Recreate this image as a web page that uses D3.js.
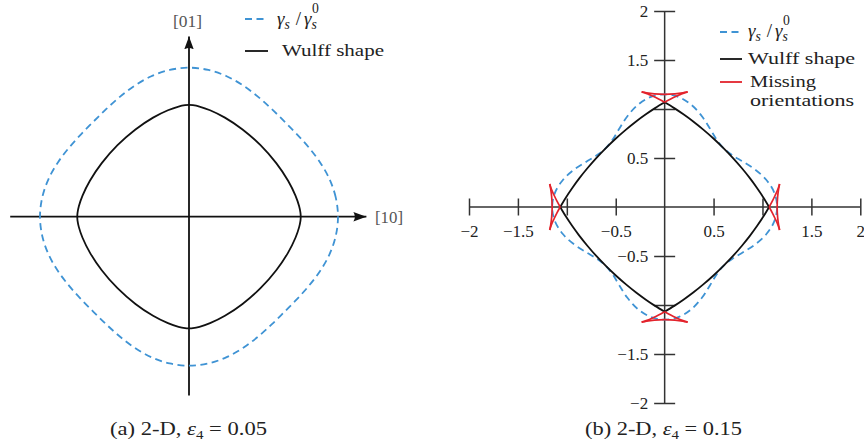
<!DOCTYPE html>
<html>
<head>
<meta charset="utf-8">
<script src="https://cdn.jsdelivr.net/npm/d3@7"></script>
<style>
  html, body { margin: 0; padding: 0; background: #fff; }
  svg { display: block; }
  text { font-family: "Liberation Serif", "Times New Roman", serif; fill: #222; }
</style>
</head>
<body>
<svg id="chart" width="864" height="446"></svg>
<script>
// ---------------- data ----------------
// polar angles (degrees) for one quarter turn; the energy plot repeats every 90°
const angleDeg = [0, 7.5, 15, 22.5, 30, 37.5, 45, 52.5, 60, 67.5, 75, 82.5];
// normalised surface energy gamma_s / gamma_s^0 at those angles
const gammaA = [1.05, 1.043, 1.025, 1.0, 0.975, 0.957, 0.95, 0.957, 0.975, 1.0, 1.025, 1.043];
const gammaB = [1.15, 1.13, 1.075, 1.0, 0.925, 0.87, 0.85, 0.87, 0.925, 1.0, 1.075, 1.13];

// Wulff shape outline, first quadrant, from the [10] tip to the [01] tip
const wulffA = [[0.7875, 0], [0.7856, 0.0278], [0.7762, 0.0735], [0.7503, 0.1484], [0.6983, 0.2531],
  [0.6149, 0.3773], [0.5039, 0.5039], [0.3773, 0.6149], [0.2531, 0.6983], [0.1484, 0.7503],
  [0.0735, 0.7762], [0.0278, 0.7856], [0, 0.7875]];
const wulffB = [[1.068, 0], [1.009, 0.098], [0.946, 0.192], [0.873, 0.292], [0.790, 0.395],
  [0.699, 0.499], [0.601, 0.601], [0.499, 0.699], [0.395, 0.790], [0.292, 0.873],
  [0.192, 0.946], [0.098, 1.009], [0, 1.068]];

// missing orientations ("ear") at the +x corner: arc between the two cusps, and one flank
const earArcB = [[1.175, -0.235], [1.171, -0.216], [1.165, -0.186], [1.155, -0.105], [1.15, 0],
  [1.155, 0.105], [1.165, 0.186], [1.171, 0.216], [1.175, 0.235]];
const earFlankB = [[1.175, -0.235], [1.167, -0.208], [1.154, -0.172], [1.132, -0.124],
  [1.102, -0.062], [1.068, 0]];

// axis ticks of panel (b)
const ticksB = [-2, -1.5, -1, -0.5, 0.5, 1, 1.5, 2];
const tickLabelsB = ["−2", "−1.5", "", "−0.5", "0.5", "", "1.5", "2"];

// axis extents of panel (a), in plot units
const axisXA = [-1.26, 1.25];
const axisYA = [-1.26, 1.27];
const axisLabelsA = ["[10]", "[01]"];

const captionTags = ["(a) 2-D, ", "(b) 2-D, "];
const epsilonValues = ["0.05", "0.15"];
const legendNames = ["Wulff shape", "Missing", "orientations"];

// ---------------- styles ----------------
const BLUE = "#3f93d4";
const RED = "#e3232c";
const BLACK = "#111";

const svg = d3.select("#chart");

// arrow head for panel (a) axes
svg.append("defs").append("marker")
  .attr("id", "arrow")
  .attr("markerUnits", "userSpaceOnUse")
  .attr("markerWidth", 16).attr("markerHeight", 12)
  .attr("viewBox", "0 -6 16 12")
  .attr("refX", 13).attr("refY", 0)
  .attr("orient", "auto")
  .append("path")
  .attr("d", "M0,-4.8 L13,0 L0,4.8 Q3,0 0,-4.8 Z")
  .attr("fill", BLACK);

// helpers ------------------------------------------------------------
function polarPoints(gamma) {
  const pts = [];
  for (let k = 0; k < 4; k++) {
    angleDeg.forEach((a, i) => {
      const t = (a + 90 * k) * Math.PI / 180;
      pts.push([gamma[i] * Math.cos(t), gamma[i] * Math.sin(t)]);
    });
  }
  return pts;
}
// the four quadrant copies of a first-quadrant arc
const quadrantSigns = [[1, 1], [-1, 1], [-1, -1], [1, -1]];
function quadrantArcs(arc) {
  return quadrantSigns.map(([sx, sy]) => arc.map(([x, y]) => [sx * x, sy * y]));
}
// rotate an x-axis feature onto all four axes
const rotations = [[1, 0], [0, 1], [-1, 0], [0, -1]];
function rotated(arc) {
  return rotations.map(([c, s]) => arc.map(([x, y]) => [c * x - s * y, s * x + c * y]));
}
function mirrorY(arc) { return arc.map(([x, y]) => [x, -y]); }

function gammaLabel(g, x, y, size) {
  const small = (size * 0.72) + "px";
  const t = g.append("text").attr("x", x).attr("y", y)
    .style("font-size", size + "px").style("font-style", "italic");
  t.append("tspan").text("γ");
  t.append("tspan").attr("dy", 4).style("font-size", small).text("s");
  t.append("tspan").attr("dy", -4).attr("dx", 6).style("font-style", "normal").text("/");
  t.append("tspan").attr("dx", 3).text("γ");
  t.append("tspan").attr("dy", 4).style("font-size", small).text("s");
  t.append("tspan").attr("dy", -16).attr("dx", -5).style("font-style", "normal")
    .style("font-size", small).text("0");
}

function caption(x, y, tag, val) {
  const t = svg.append("text").attr("x", x).attr("y", y)
    .attr("text-anchor", "middle").style("font-size", "18px")
    .attr("textLength", 157).attr("lengthAdjust", "spacingAndGlyphs");
  t.append("tspan").text(tag);
  t.append("tspan").style("font-style", "italic").text("ε");
  t.append("tspan").attr("dy", 4).style("font-size", "12px").text("4");
  t.append("tspan").attr("dy", -4).text(" = " + val);
}

// ---------------- panel (a) ----------------
const unitA = 141.9;
const xA = d3.scaleLinear().domain([-1, 1]).range([189 - unitA, 189 + unitA]);
const yA = d3.scaleLinear().domain([-1, 1]).range([216.7 + unitA, 216.7 - unitA]);
const gA = svg.append("g");

gA.append("line")
  .attr("x1", xA(axisXA[0])).attr("x2", xA(axisXA[1]))
  .attr("y1", yA(0)).attr("y2", yA(0))
  .attr("stroke", BLACK).attr("stroke-width", 1.8).attr("marker-end", "url(#arrow)");
gA.append("line")
  .attr("x1", xA(0)).attr("x2", xA(0))
  .attr("y1", yA(axisYA[0])).attr("y2", yA(axisYA[1]))
  .attr("stroke", BLACK).attr("stroke-width", 1.8).attr("marker-end", "url(#arrow)");

const lineA = d3.line().x(d => xA(d[0])).y(d => yA(d[1]));
gA.append("path")
  .datum(polarPoints(gammaA))
  .attr("d", lineA.curve(d3.curveCatmullRomClosed))
  .attr("fill", "none").attr("stroke", BLUE).attr("stroke-width", 1.8)
  .attr("stroke-dasharray", "7,4.5");
gA.selectAll(".wulffA")
  .data(quadrantArcs(wulffA))
  .join("path")
  .attr("d", d3.line().x(d => xA(d[0])).y(d => yA(d[1])).curve(d3.curveCatmullRom))
  .attr("fill", "none").attr("stroke", BLACK).attr("stroke-width", 1.8);

gA.append("text").attr("x", 375).attr("y", 223).style("font-size", "17px").style("fill", "#555")
  .attr("textLength", 28).attr("lengthAdjust", "spacingAndGlyphs").text(axisLabelsA[0]);
gA.append("text").attr("x", 173).attr("y", 27).style("font-size", "17px").style("fill", "#555")
  .attr("textLength", 29).attr("lengthAdjust", "spacingAndGlyphs").text(axisLabelsA[1]);

// legend (a)
gA.append("line").attr("x1", 245).attr("x2", 267).attr("y1", 19).attr("y2", 19)
  .attr("stroke", BLUE).attr("stroke-width", 1.8).attr("stroke-dasharray", "7,4.5");
gammaLabel(gA, 277, 25, 19);
gA.append("line").attr("x1", 245).attr("x2", 268).attr("y1", 51).attr("y2", 51)
  .attr("stroke", BLACK).attr("stroke-width", 1.8);
gA.append("text").attr("x", 282).attr("y", 56).style("font-size", "16px")
  .attr("textLength", 102).attr("lengthAdjust", "spacingAndGlyphs").text(legendNames[0]);

caption(188.5, 435, captionTags[0], epsilonValues[0]);

// ---------------- panel (b) ----------------
const xB = d3.scaleLinear().domain([-2, 2]).range([469, 860.3]);
const yB = d3.scaleLinear().domain([-2, 2]).range([403, 11]);
const gB = svg.append("g");
const AXIS = "#333";

// axis lines
gB.append("line").attr("x1", xB(-2)).attr("x2", xB(2)).attr("y1", yB(0)).attr("y2", yB(0))
  .attr("stroke", AXIS).attr("stroke-width", 1.5);
gB.append("line").attr("x1", xB(0)).attr("x2", xB(0)).attr("y1", yB(-2)).attr("y2", yB(2))
  .attr("stroke", AXIS).attr("stroke-width", 1.5);

const xTickHalf = 8.5, yTickHalf = 10.5;
const xAxisB = d3.axisBottom(xB).tickValues(ticksB).tickSize(2 * xTickHalf).tickPadding(9)
  .tickFormat((d, i) => tickLabelsB[i]);
const gx = gB.append("g").attr("transform", `translate(0,${yB(0) - xTickHalf})`).call(xAxisB);
const yAxisB = d3.axisLeft(yB).tickValues(ticksB).tickSize(2 * yTickHalf).tickPadding(6)
  .tickFormat((d, i) => tickLabelsB[i]);
const gy = gB.append("g").attr("transform", `translate(${xB(0) + yTickHalf},0)`).call(yAxisB);
[gx, gy].forEach(g => {
  g.select(".domain").remove();
  g.selectAll(".tick line").attr("stroke", AXIS).attr("stroke-width", 1.5);
  g.selectAll(".tick text").style("font-family", "'Liberation Serif', serif")
    .style("font-size", "17px").attr("fill", "#333");
});

const lineB = d3.line().x(d => xB(d[0])).y(d => yB(d[1]));
gB.append("path")
  .datum(polarPoints(gammaB))
  .attr("d", lineB.curve(d3.curveCatmullRomClosed))
  .attr("fill", "none").attr("stroke", BLUE).attr("stroke-width", 1.8)
  .attr("stroke-dasharray", "7,4.5");

const openB = d3.line().x(d => xB(d[0])).y(d => yB(d[1])).curve(d3.curveCatmullRom);
gB.selectAll(".wulffB")
  .data(quadrantArcs(wulffB))
  .join("path")
  .attr("d", openB)
  .attr("fill", "none").attr("stroke", BLACK).attr("stroke-width", 1.8);

const earPieces = [...rotated(earArcB), ...rotated(earFlankB), ...rotated(mirrorY(earFlankB))];
gB.selectAll(".ear")
  .data(earPieces)
  .join("path")
  .attr("d", openB)
  .attr("fill", "none").attr("stroke", RED).attr("stroke-width", 1.7);

// legend (b)
gB.append("line").attr("x1", 720).attr("x2", 742).attr("y1", 32).attr("y2", 32)
  .attr("stroke", BLUE).attr("stroke-width", 1.8).attr("stroke-dasharray", "7,4.5");
gammaLabel(gB, 748, 37, 19);
gB.append("line").attr("x1", 720).attr("x2", 742).attr("y1", 59).attr("y2", 59)
  .attr("stroke", BLACK).attr("stroke-width", 1.8);
gB.append("text").attr("x", 748).attr("y", 64).style("font-size", "16px")
  .attr("textLength", 107).attr("lengthAdjust", "spacingAndGlyphs").text(legendNames[0]);
gB.append("line").attr("x1", 720).attr("x2", 742).attr("y1", 82).attr("y2", 82)
  .attr("stroke", RED).attr("stroke-width", 1.8);
gB.append("text").attr("x", 750).attr("y", 87).style("font-size", "16px")
  .attr("textLength", 66).attr("lengthAdjust", "spacingAndGlyphs").text(legendNames[1]);
gB.append("text").attr("x", 750).attr("y", 106).style("font-size", "16px")
  .attr("textLength", 104).attr("lengthAdjust", "spacingAndGlyphs").text(legendNames[2]);

caption(663.5, 435, captionTags[1], epsilonValues[1]);
</script>
</body>
</html>
